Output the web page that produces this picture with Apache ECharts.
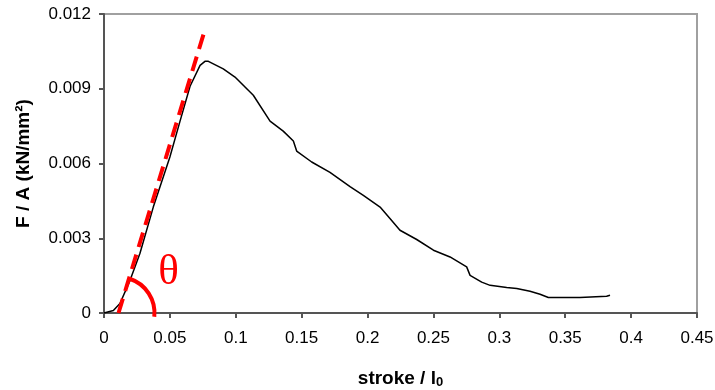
<!DOCTYPE html>
<html><head><meta charset="utf-8">
<script src="https://cdn.jsdelivr.net/npm/echarts@6/dist/echarts.min.js"></script>
<style>html,body{margin:0;padding:0;background:#fff}#c{width:715px;height:390px}</style>
</head><body><div id="c"></div>
<script>
// measured curve: stroke / l0 vs F / A (kN/mm^2)
const strokeX = [0, 0.0071, 0.0121, 0.0197, 0.0273, 0.0374, 0.050, 0.0577, 0.0653, 0.0729, 0.0766, 0.0792, 0.0905, 0.0994, 0.1133, 0.126, 0.136, 0.1437, 0.1462, 0.1576, 0.1715, 0.1867, 0.1968, 0.2095, 0.217, 0.2246, 0.2373, 0.25, 0.2626, 0.2752, 0.2778, 0.2866, 0.293, 0.3056, 0.3132, 0.3233, 0.3309, 0.3372, 0.3612, 0.3625, 0.3814, 0.384];
const stressY = [0, 0.0001, 0.00038, 0.0013, 0.0024, 0.00425, 0.00626, 0.0077, 0.0091, 0.00994, 0.0101, 0.0101, 0.0098, 0.00947, 0.00874, 0.0077, 0.0073, 0.0069, 0.0065, 0.00606, 0.00564, 0.00507, 0.00472, 0.00425, 0.00379, 0.00332, 0.00295, 0.00252, 0.00225, 0.00185, 0.00151, 0.00124, 0.00111, 0.00102, 0.00098, 0.00087, 0.00075, 0.00062, 0.00062, 0.00067, 0.00067, 0.00071];
// tangent (slope) line
const tangentX = [0.011, 0.0766];
const tangentY = [0, 0.01137];
// angle marker origin
const angleOrigin = [[0.011, 0]];
const angleLabel = 'θ';

const chart = echarts.init(document.getElementById('c'), null, {renderer: 'canvas'});
const font = 'Liberation Sans, Arial, sans-serif';
chart.setOption({
  animation: false,
  grid: {left: 104, right: 18, top: 14, bottom: 77, containLabel: false, outerBoundsMode: 'none',
         show: true, borderColor: '#a0a0a0', borderWidth: 2, backgroundColor: '#fff'},
  xAxis: {
    type: 'value', min: 0, max: 0.45, interval: 0.05,
    name: 'stroke / l{sub|0}', nameLocation: 'middle', nameGap: 56,
    nameTextStyle: {fontFamily: font, fontWeight: 'bold', fontSize: 19, color: '#000',
      rich: {sub: {fontFamily: font, fontWeight: 'bold', fontSize: 13, verticalAlign: 'bottom', padding: [7, 0, 0, 0], color: '#000'}}},
    axisLine: {show: true, onZero: false, lineStyle: {color: '#555', width: 2}},
    axisTick: {show: true, inside: false, length: 5, lineStyle: {color: '#555', width: 2}},
    axisLabel: {fontFamily: font, fontSize: 17, color: '#000', margin: 17},
    splitLine: {show: false}
  },
  yAxis: {
    type: 'value', min: 0, max: 0.012, interval: 0.003,
    name: 'F / A (kN/mm²)', nameLocation: 'middle', nameGap: 71, nameRotate: 90,
    nameTextStyle: {fontFamily: font, fontWeight: 'bold', fontSize: 19, color: '#000'},
    axisLine: {show: true, onZero: false, lineStyle: {color: '#555', width: 2}},
    axisTick: {show: true, inside: false, length: 5, lineStyle: {color: '#555', width: 2}},
    axisLabel: {fontFamily: font, fontSize: 17, color: '#000', margin: 13},
    splitLine: {show: false}
  },
  series: [
    {type: 'line', data: strokeX.map((x, i) => [x, stressY[i]]), showSymbol: false, symbol: 'none',
     lineStyle: {color: '#000', width: 1.5}, z: 3},
    {type: 'line', data: tangentX.map((x, i) => [x, tangentY[i]]), showSymbol: false, symbol: 'none',
     lineStyle: {color: '#ff0000', width: 4, type: [15, 8]}, z: 4},
    {type: 'custom', data: angleOrigin, z: 5, clip: false,
     renderItem: function (params, api) {
       const c = api.coord([api.value(0), api.value(1)]);
       return {type: 'group', children: [
         {type: 'arc', shape: {cx: c[0], cy: c[1], r: 36, startAngle: -72 * Math.PI / 180, endAngle: 6 * Math.PI / 180, clockwise: true},
          style: {stroke: '#ff0000', lineWidth: 4, fill: null}},
         {type: 'text', x: c[0] + 50, y: c[1] - 40,
          style: {text: angleLabel, fill: '#ff0000', font: '43px "Liberation Serif", "Times New Roman", serif', align: 'center', verticalAlign: 'middle'}}
       ]};
     }}
  ]
});
</script></body></html>
